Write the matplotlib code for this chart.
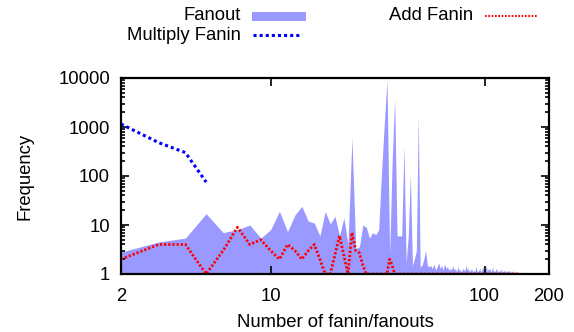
import numpy as np
import matplotlib
matplotlib.use("Agg")
import matplotlib.pyplot as plt
from matplotlib.lines import Line2D
from matplotlib.patches import Rectangle
from matplotlib.ticker import LogLocator, NullLocator, NullFormatter, FixedLocator

plt.rcParams["font.family"] = ["Liberation Sans", "DejaVu Sans"]
plt.rcParams["font.size"] = 13.3

# fanout histogram, x = 2..200
fanout_head = [
    2.8, 4.5, 5.4, 17, 7, 8, 10, 5.4, 8, 19,          # 2-11
    7.3, 16, 24, 12, 11, 6, 19, 10.5, 15, 6,          # 12-21
    14, 4, 600, 3.3, 3.6, 10, 9, 5.4, 7, 6.3,         # 22-31
    8, 117, 1200, 9000, 2.5, 200, 3800, 6, 6, 6,      # 32-41
    400, 1.7, 6, 110, 1.5, 2, 3, 1750, 1.4, 1.5,      # 42-51
    2, 3, 1.5, 1.4, 1.5,                              # 52-56
]
fanout_tail = [
    1.3, 1.6, 1.2, 1.4, 1.7, 1.3, 1.5, 1.2, 1.6, 1.3, 1.4, 1.2,
    1.3, 1.2, 1.5, 1.2, 1.3, 1.1, 1.4, 1.2, 1.2, 1.1, 1.3, 1.2,
    1.2, 1.5, 1.2, 1.3, 1.1, 1.2, 1.3, 1.1, 1.2, 1.1, 1.4, 1.2,
    1.1, 1.2, 1.3, 1.1, 1.2, 1.4, 1.2, 1.3, 1.2, 1.5, 1.1, 1.3,
    1.2, 1.3, 1.1, 1.2, 1.4, 1.1, 1.2, 1.1, 1.3, 1.2, 1.1, 1.2,
    1.1, 1.2, 1.1, 1.3, 1.1, 1.1, 1.2, 1.1, 1.2, 1.1, 1.1, 1.2,
    1.1, 1.1, 1.2, 1.1, 1.0, 1.1, 1.1, 1.2, 1.0, 1.1, 1.1, 1.0,
    1.1, 1.0, 1.1, 1.1, 1.0, 1.0, 1.1, 1.0, 1.1, 1.0, 1.0, 1.1,
    1.0, 1.0, 1.1, 1.0, 1.0, 1.1, 1.0, 1.0, 1.0, 1.1, 1.0, 1.0,
] + [1.0] * 36
fanout = fanout_head + fanout_tail
fanout_x = np.arange(2, 2 + len(fanout))

multiply_x = [2, 3, 4, 5]
multiply_fanin = [1150, 480, 300, 75]

add_fanin = [
    2, 4, 4, 1, 3, 9, 4, 5, 3, 2,            # 2-11
    4, 3, 2, 3, 4, 2, 1, 1, 2.5, 6,          # 12-21
    2.4, 1, 7, 3, 2.7, 1.5, 1, 1, 1, 1,      # 22-31
    1, 1, 1, 1, 2, 1.5, 1,                   # 32-38
] + [1] * 107                                 # 39-145
add_x = np.arange(2, 2 + len(add_fanin))

fill_color = "#9999ff"

fig = plt.figure(figsize=(5.74, 3.32), dpi=100)
ax = fig.add_axes([121 / 574, 58 / 332, 428 / 574, 196 / 332])

ax.fill_between(fanout_x, 1, fanout, color=fill_color, lw=0)
ax.plot(multiply_x, multiply_fanin, color="blue", lw=2.2, ls=(0, (1, 1)))
ax.plot(add_x, add_fanin, color="red", lw=2.0, ls=(0, (0.8, 0.7)))

ax.set_xscale("log")
ax.set_yscale("log")
ax.set_xlim(2, 200)
ax.set_ylim(1, 10000)

ax.xaxis.set_major_locator(FixedLocator([2, 10, 100, 200]))
ax.set_xticklabels(["2", "10", "100", "200"])
ax.xaxis.set_minor_locator(NullLocator())
ax.yaxis.set_major_locator(FixedLocator([1, 10, 100, 1000, 10000]))
ax.set_yticklabels(["1", "10", "100", "1000", "10000"])
ax.yaxis.set_minor_locator(LogLocator(base=10, subs=np.arange(2, 10)))
ax.yaxis.set_minor_formatter(NullFormatter())

ax.tick_params(which="both", direction="in", top=True, right=True, width=1.2)
ax.tick_params(which="major", length=6)
ax.tick_params(which="minor", length=3)
ax.tick_params(axis="x", pad=10)
ax.tick_params(axis="y", pad=8)
for s in ax.spines.values():
    s.set_linewidth(1.6)

ax.set_xlabel("Number of fanin/fanouts")
ax.set_ylabel("Frequency")
ax.xaxis.set_label_coords(0.5, -0.205)
ax.yaxis.set_label_coords(-0.204, 0.5)

# key above the plot, text right-aligned before each sample
def key_text(x, y, s):
    fig.text(x / 574, 1 - y / 332, s, ha="right", va="center")

key_text(241, 16, "Fanout")
fig.add_artist(Rectangle((252 / 574, 1 - 21 / 332), 54 / 574, 9 / 332,
                         transform=fig.transFigure, color=fill_color, lw=0))
key_text(241, 36, "Multiply Fanin")
fig.add_artist(Line2D([253 / 574, 302 / 574], [1 - 35 / 332] * 2,
                      transform=fig.transFigure, color="blue", lw=2.2, ls=(0, (1, 1))))
key_text(473, 16, "Add Fanin")
fig.add_artist(Line2D([485 / 574, 537 / 574], [1 - 16 / 332] * 2,
                      transform=fig.transFigure, color="red", lw=1.5, ls=(0, (0.8, 0.8))))

fig.savefig("out.png", dpi=100)
